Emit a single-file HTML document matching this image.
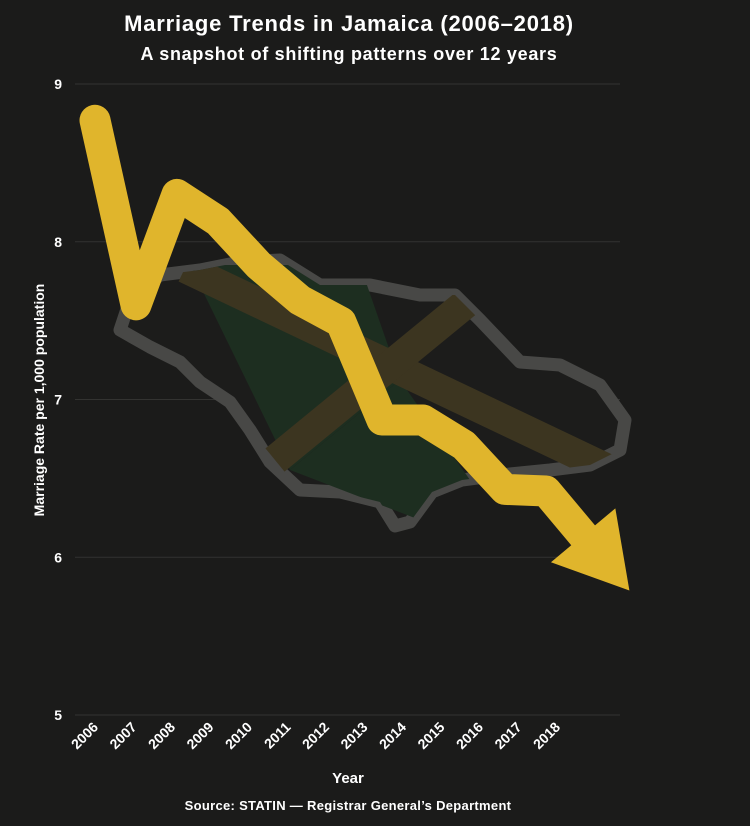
<!DOCTYPE html>
<html><head><meta charset="utf-8"><style>
html,body{margin:0;padding:0;background:#1b1b1a;}
svg{display:block;font-family:"Liberation Sans",sans-serif;}
</style></head><body>
<svg id="chart" width="750" height="826">
<rect width="750" height="826" fill="#1b1b1a"/>
<text x="349" y="31" text-anchor="middle" fill="#fff" font-size="22" font-weight="bold" letter-spacing="0.8">Marriage Trends in Jamaica (2006–2018)</text>
<text x="349" y="60" text-anchor="middle" fill="#fff" font-size="18" font-weight="bold" letter-spacing="0.7">A snapshot of shifting patterns over 12 years</text>
<g id="grid"></g>
<g id="map">
  <clipPath id="mc"><polygon points="120,330 130,300 160,275 200,270 240,262 280,260 320,285 370,285 420,295 455,295 480,320 520,362 560,365 600,385 625,420 620,450 590,465 550,470 500,475 462,480 432,492 410,522 395,526 380,502 340,492 300,490 270,462 250,430 230,402 200,382 180,362 150,347"/></clipPath>
  <polygon points="120,330 130,300 160,275 200,270 240,262 280,260 320,285 370,285 420,295 455,295 480,320 520,362 560,365 600,385 625,420 620,450 590,465 550,470 500,475 462,480 432,492 410,522 395,526 380,502 340,492 300,490 270,462 250,430 230,402 200,382 180,362 150,347" fill="#1c1c1b" stroke="#484846" stroke-width="13" stroke-linejoin="round"/>
  <g clip-path="url(#mc)">
    <polygon points="190,265 360,265 400,380 290,470" fill="#1d2e20"/>
    <polygon points="400,380 290,470 420,520 470,480" fill="#1d2e20"/>
    <line x1="185" y1="268" x2="610" y2="470" stroke="#3c3520" stroke-width="30"/>
    <line x1="275" y1="460" x2="470" y2="300" stroke="#3c3520" stroke-width="30"/>
  </g>
</g>
<g id="axes"></g>
<g id="series"></g>
<text x="0" y="0" transform="translate(44,400) rotate(-90)" text-anchor="middle" fill="#fff" font-size="14" font-weight="bold">Marriage Rate per 1,000 population</text>
<text x="348" y="783" text-anchor="middle" fill="#fff" font-size="15" font-weight="bold">Year</text>
<text x="348" y="810" text-anchor="middle" fill="#fff" font-size="13" font-weight="bold" letter-spacing="0.3">Source: STATIN — Registrar General’s Department</text>
</svg>
<script>
const years = ["2006","2007","2008","2009","2010","2011","2012","2013","2014","2015","2016","2017","2018"];
const rates = [8.77,7.6,8.3,8.13,7.85,7.63,7.49,6.87,6.87,6.71,6.43,6.42,6.11];
const yTicks = [5,6,7,8,9];
const NS="http://www.w3.org/2000/svg";
function xl(i){return 97+i*38.5;}
function xs(i){return 95+i*41;}
function ys(v){return 84+(9-v)*157.75;}
function mk(tag,attrs,parent){const e=document.createElementNS(NS,tag);for(const k in attrs)e.setAttribute(k,attrs[k]);parent.appendChild(e);return e;}
const grid=document.getElementById('grid'), axes=document.getElementById('axes'), series=document.getElementById('series');
yTicks.forEach(t=>{
  const l=mk('line',{x1:75,x2:620,y1:ys(t),y2:ys(t),stroke:'#333331','stroke-width':1},grid);
  
  
  const tx=mk('text',{x:62,y:ys(t)+5,'text-anchor':'end',fill:'#fff','font-size':14,'font-weight':'bold'},axes);
  tx.textContent=t;
  
  
});
years.forEach((yr,i)=>{
  const tx=mk('text',{x:0,y:0,transform:`translate(${xl(i)+2},${728}) rotate(-45)`,'text-anchor':'end',fill:'#fff','font-size':14,'font-weight':'bold'},axes);
  tx.textContent=yr;
  
  
});
const pts=rates.map((v,i)=>[xs(i),ys(v)]);
const pl=mk('polyline',{points:pts.map(p=>p.join(',')).join(' '),fill:'none',stroke:'#e0b52c','stroke-width':31,'stroke-linejoin':'round','stroke-linecap':'round'},series);


const a=pts[pts.length-2], b=pts[pts.length-1];
let dx=b[0]-a[0], dy=b[1]-a[1]; const L=Math.hypot(dx,dy); dx/=L; dy/=L;
const bx=b[0]-dx*6, by=b[1]-dy*6;
const tip=[bx+dx*72,by+dy*72], w1=[bx-dy*42,by+dx*42], w2=[bx+dy*42,by-dx*42];
const ah=mk('polygon',{points:[w1,tip,w2].map(p=>p.join(',')).join(' '),fill:'#e0b52c'},series);


</script>
</body></html>
